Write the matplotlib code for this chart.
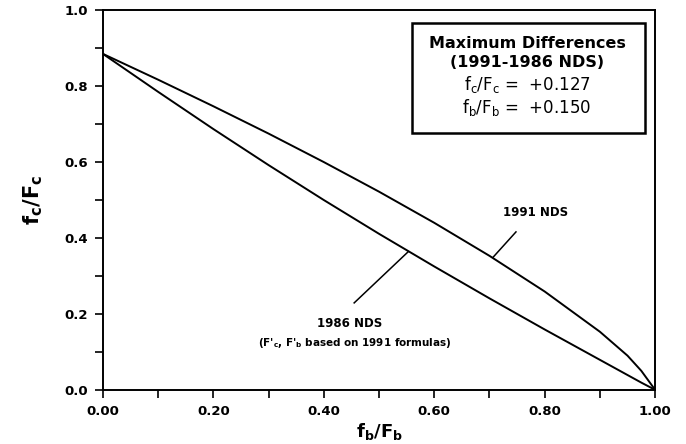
import numpy as np
import matplotlib
matplotlib.use("Agg")
import matplotlib.pyplot as plt
from matplotlib.patches import Rectangle
from matplotlib.ticker import MultipleLocator

plt.rcParams['font.family'] = 'DejaVu Sans'
plt.rcParams['mathtext.fontset'] = 'dejavusans'
plt.rcParams['mathtext.default'] = 'regular'

# values
fb_Fb = [0.0, 0.1, 0.2, 0.3, 0.4, 0.5, 0.6, 0.7, 0.8, 0.9, 0.95, 0.975, 1.0]
nds_1991 = [0.885, 0.817, 0.747, 0.675, 0.600, 0.522, 0.440, 0.353, 0.259, 0.153, 0.090, 0.050, 0.0]
nds_1986 = [0.885, 0.785, 0.687, 0.592, 0.500, 0.411, 0.325, 0.241, 0.159, 0.079, 0.039, 0.019, 0.0]

diff_fc = "+0.127"
diff_fb = "+0.150"

fig = plt.figure(figsize=(6.86, 4.44), dpi=100)
ax = fig.add_axes([0.150, 0.122, 0.805, 0.855])

ax.plot(fb_Fb, nds_1991, color="black", lw=1.4)
ax.plot(fb_Fb, nds_1986, color="black", lw=1.4)

ax.set_xlim(0, 1)
ax.set_ylim(0, 1)
ax.xaxis.set_major_locator(MultipleLocator(0.2))
ax.xaxis.set_minor_locator(MultipleLocator(0.1))
ax.yaxis.set_major_locator(MultipleLocator(0.2))
ax.yaxis.set_minor_locator(MultipleLocator(0.1))
ax.set_xticklabels([f"{v:.2f}" for v in ax.get_xticks()])
ax.set_yticklabels([f"{v:.1f}" for v in ax.get_yticks()])
ax.tick_params(which="both", direction="out", length=6, width=1.2, top=False, right=False)
ax.tick_params(which="major", labelsize=9.5, pad=5)
for lab in ax.get_xticklabels() + ax.get_yticklabels():
    lab.set_fontweight("bold")
for s in ax.spines.values():
    s.set_linewidth(1.4)

ax.set_xlabel(r"$\mathbf{f_b/F_b}$", fontsize=13, labelpad=2)
ax.set_ylabel(r"$\mathbf{f_c/F_c}$", fontsize=15, labelpad=14)

# legend box with max differences
ax.add_patch(Rectangle((0.56, 0.676), 0.422, 0.29, transform=ax.transAxes,
                       fill=False, lw=1.8, color="black"))
ax.text(0.768, 0.913, "Maximum Differences", transform=ax.transAxes,
        ha="center", va="center", fontsize=11.5, fontweight="bold")
ax.text(0.768, 0.861, "(1991-1986 NDS)", transform=ax.transAxes,
        ha="center", va="center", fontsize=11.5, fontweight="bold")
ax.text(0.768, 0.803, r"$f_c/F_c$ =  " + diff_fc, transform=ax.transAxes,
        ha="center", va="center", fontsize=12)
ax.text(0.768, 0.745, r"$f_b/F_b$ =  " + diff_fb, transform=ax.transAxes,
        ha="center", va="center", fontsize=12)

# curve labels
ax.plot([0.748, 0.707], [0.416, 0.350], color="black", lw=1.1)
ax.text(0.783, 0.466, "1991 NDS", ha="center", va="center",
        fontsize=8.5, fontweight="bold")
ax.plot([0.455, 0.553], [0.229, 0.364], color="black", lw=1.1)
ax.text(0.447, 0.176, "1986 NDS", ha="center", va="center",
        fontsize=8.5, fontweight="bold")
ax.text(0.457, 0.124, r"(F'$_c$, F'$_b$ based on 1991 formulas)", ha="center",
        va="center", fontsize=7.5, fontweight="bold")

fig.savefig("out.png", dpi=100)
